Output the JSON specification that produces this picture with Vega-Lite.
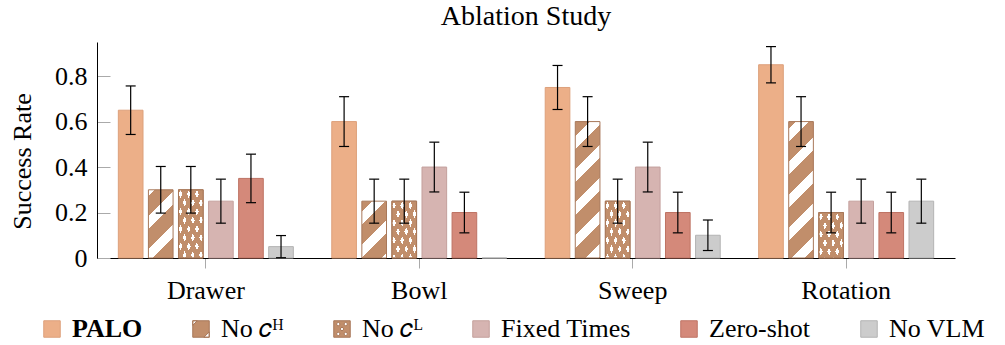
{
  "$schema": "https://vega.github.io/schema/vega-lite/v6.json",
  "autosize": {"type": "none"},
  "width": 858,
  "height": 216,
  "padding": {"left": 97, "top": 42, "right": 50, "bottom": 87},
  "background": "white",
  "config": {"view": {"stroke": null}, "font": "Liberation Serif"},
  "title": {"text": "Ablation Study", "font": "Liberation Serif", "fontSize": 28, "fontWeight": "normal", "color": "black", "anchor": "middle", "frame": "group", "baseline": "alphabetic", "offset": -11},
  "data": {"values": [
    {"task": "Drawer", "method": "PALO", "v": 0.65, "lo": 0.5433, "hi": 0.7567},
    {"task": "Drawer", "method": "NoCH", "v": 0.3, "lo": 0.1975, "hi": 0.4025},
    {"task": "Drawer", "method": "NoCL", "v": 0.3, "lo": 0.1975, "hi": 0.4025},
    {"task": "Drawer", "method": "Fixed", "v": 0.25, "lo": 0.1532, "hi": 0.3468},
    {"task": "Drawer", "method": "Zero", "v": 0.35, "lo": 0.2433, "hi": 0.4567},
    {"task": "Drawer", "method": "NoVLM", "v": 0.05, "lo": 0.0013, "hi": 0.0987},
    {"task": "Bowl", "method": "PALO", "v": 0.6, "lo": 0.4905, "hi": 0.7095},
    {"task": "Bowl", "method": "NoCH", "v": 0.25, "lo": 0.1532, "hi": 0.3468},
    {"task": "Bowl", "method": "NoCL", "v": 0.25, "lo": 0.1532, "hi": 0.3468},
    {"task": "Bowl", "method": "Fixed", "v": 0.4, "lo": 0.2905, "hi": 0.5095},
    {"task": "Bowl", "method": "Zero", "v": 0.2, "lo": 0.1106, "hi": 0.2894},
    {"task": "Bowl", "method": "NoVLM", "v": 0, "lo": 0, "hi": 0},
    {"task": "Sweep", "method": "PALO", "v": 0.75, "lo": 0.6532, "hi": 0.8468},
    {"task": "Sweep", "method": "NoCH", "v": 0.6, "lo": 0.4905, "hi": 0.7095},
    {"task": "Sweep", "method": "NoCL", "v": 0.25, "lo": 0.1532, "hi": 0.3468},
    {"task": "Sweep", "method": "Fixed", "v": 0.4, "lo": 0.2905, "hi": 0.5095},
    {"task": "Sweep", "method": "Zero", "v": 0.2, "lo": 0.1106, "hi": 0.2894},
    {"task": "Sweep", "method": "NoVLM", "v": 0.1, "lo": 0.0329, "hi": 0.1671},
    {"task": "Rotation", "method": "PALO", "v": 0.85, "lo": 0.7702, "hi": 0.9298},
    {"task": "Rotation", "method": "NoCH", "v": 0.6, "lo": 0.4905, "hi": 0.7095},
    {"task": "Rotation", "method": "NoCL", "v": 0.2, "lo": 0.1106, "hi": 0.2894},
    {"task": "Rotation", "method": "Fixed", "v": 0.25, "lo": 0.1532, "hi": 0.3468},
    {"task": "Rotation", "method": "Zero", "v": 0.2, "lo": 0.1106, "hi": 0.2894},
    {"task": "Rotation", "method": "NoVLM", "v": 0.25, "lo": 0.1532, "hi": 0.3468}
  ]},
  "encoding": {
    "x": {"field": "task", "type": "nominal", "title": null,
      "scale": {"domain": ["Drawer", "Bowl", "Sweep", "Rotation"], "paddingInner": 0.18, "paddingOuter": 0.1},
      "axis": {"labelAngle": 0, "tickSize": 10, "tickColor": "#aaaaaa", "tickWidth": 1, "domainColor": "black", "domainWidth": 1, "labelFont": "Liberation Serif", "labelFontSize": 26, "labelColor": "black", "labelPadding": 9}},
    "xOffset": {"field": "method", "type": "nominal",
      "scale": {"domain": ["PALO", "NoCH", "NoCL", "Fixed", "Zero", "NoVLM"], "paddingInner": 0.18, "paddingOuter": 0}}
  },
  "layer": [
    {
      "mark": {"type": "bar", "strokeWidth": 1},
      "encoding": {
        "y": {"field": "v", "type": "quantitative", "title": "Success Rate",
          "scale": {"domain": [0, 0.95], "nice": false, "zero": true},
          "axis": {"values": [0, 0.2, 0.4, 0.6, 0.8], "format": "~g", "grid": false, "tickSize": -13, "tickColor": "#aaaaaa", "domainColor": "black", "labelFont": "Liberation Serif", "labelFontSize": 26, "labelColor": "black", "labelPadding": 23, "titleFont": "Liberation Serif", "titleFontSize": 26, "titleFontWeight": "normal", "titleColor": "black", "titleX": -62, "titleY": 119}},
        "stroke": {"field": "method", "type": "nominal", "legend": null,
          "scale": {"domain": ["PALO", "NoCH", "NoCL", "Fixed", "Zero", "NoVLM"], "range": ["#DDA07B", "#A8785A", "#A8785A", "#C4A09D", "#BE7364", "#B3B3B3"]}},
        "fill": {"field": "method", "type": "nominal",
          "scale": {"domain": ["PALO", "NoCH", "NoCL", "Fixed", "Zero", "NoVLM"], "range": ["#ECAF88", "#C18E6B", "#C18E6B", "#D6B4B1", "#D4897A", "#CCCCCC"]},
          "legend": {"orient": "none", "legendX": -58, "legendY": 274, "direction": "horizontal", "title": null, "symbolType": "square", "symbolSize": 272, "symbolStrokeWidth": 1, "symbolOpacity": 1, "labelFont": "Liberation Serif", "labelFontSize": 26, "labelColor": "black", "labelOffset": 7, "labelLimit": 0, "columnPadding": 45,
            "labelExpr": "datum.value === 'NoCH' ? 'No 𝑐ᴴ' : datum.value === 'NoCL' ? 'No 𝑐ᴸ' : datum.value === 'Fixed' ? 'Fixed Times' : datum.value === 'Zero' ? 'Zero-shot' : datum.value === 'NoVLM' ? 'No VLM' : 'PALO'",
            "encode": {
              "symbols": {"update": {
                "shape": {"signal": "datum.value === 'NoCH' ? 'M-1,-1H1V1H-1Z M-1,-1L-1,-0.45L-0.45,-1Z M1,1L1,0.35L0.35,1Z' : datum.value === 'NoCL' ? 'M-1,-1H1V1H-1Z M-0.45,-0.85L-0.68,-0.6L-0.45,-0.35L-0.22,-0.6Z M0.45,-0.85L0.22,-0.6L0.45,-0.35L0.68,-0.6Z M0,-0.25L-0.23,0L0,0.25L0.23,0Z M-0.45,0.35L-0.68,0.6L-0.45,0.85L-0.22,0.6Z M0.45,0.35L0.22,0.6L0.45,0.85L0.68,0.6Z' : 'square'"},
                "stroke": {"signal": "scale('stroke', datum.value)"},
                "strokeWidth": {"value": 1}
              }},
              "labels": {"update": {"fontWeight": {"signal": "datum.value === 'PALO' ? 'bold' : 'normal'"}}}
            }},
          "condition": [
            {"test": "datum.method === 'NoCL'", "value": "#FFFFFF"},
            {"test": "datum.method === 'NoCH' && datum.task === 'Drawer'", "value": {"gradient": "linear", "x1": 0, "y1": 0, "x2": 0.4353, "y2": 1.2042, "stops": [
              {"offset": 0, "color": "#FFFFFF"}, {"offset": 0.0646, "color": "#FFFFFF"}, {"offset": 0.0646, "color": "#C18E6B"}, {"offset": 0.28, "color": "#C18E6B"}, {"offset": 0.28, "color": "#FFFFFF"}, {"offset": 0.42, "color": "#FFFFFF"}, {"offset": 0.42, "color": "#C18E6B"}, {"offset": 0.635, "color": "#C18E6B"}, {"offset": 0.635, "color": "#FFFFFF"}, {"offset": 0.775, "color": "#FFFFFF"}, {"offset": 0.775, "color": "#C18E6B"}, {"offset": 0.991, "color": "#C18E6B"}, {"offset": 0.991, "color": "#FFFFFF"}, {"offset": 1, "color": "#FFFFFF"}]}},
            {"test": "datum.method === 'NoCH' && datum.task === 'Bowl'", "value": {"gradient": "linear", "x1": 0, "y1": 0, "x2": 0.5235, "y2": 1.2067, "stops": [
              {"offset": 0, "color": "#C18E6B"}, {"offset": 0.1227, "color": "#C18E6B"}, {"offset": 0.1227, "color": "#FFFFFF"}, {"offset": 0.2822, "color": "#FFFFFF"}, {"offset": 0.2822, "color": "#C18E6B"}, {"offset": 0.5276, "color": "#C18E6B"}, {"offset": 0.5276, "color": "#FFFFFF"}, {"offset": 0.6871, "color": "#FFFFFF"}, {"offset": 0.6871, "color": "#C18E6B"}, {"offset": 0.9325, "color": "#C18E6B"}, {"offset": 0.9325, "color": "#FFFFFF"}, {"offset": 1, "color": "#FFFFFF"}]}},
            {"test": "datum.method === 'NoCH' && datum.task === 'Sweep'", "value": {"gradient": "linear", "x1": 0, "y1": 0, "x2": 0.2067, "y2": 1.1434, "stops": [
              {"offset": 0, "color": "#C18E6B"}, {"offset": 0.0931, "color": "#C18E6B"}, {"offset": 0.0931, "color": "#FFFFFF"}, {"offset": 0.1738, "color": "#FFFFFF"}, {"offset": 0.1738, "color": "#C18E6B"}, {"offset": 0.298, "color": "#C18E6B"}, {"offset": 0.298, "color": "#FFFFFF"}, {"offset": 0.3787, "color": "#FFFFFF"}, {"offset": 0.3787, "color": "#C18E6B"}, {"offset": 0.5029, "color": "#C18E6B"}, {"offset": 0.5029, "color": "#FFFFFF"}, {"offset": 0.5836, "color": "#FFFFFF"}, {"offset": 0.5836, "color": "#C18E6B"}, {"offset": 0.7077, "color": "#C18E6B"}, {"offset": 0.7077, "color": "#FFFFFF"}, {"offset": 0.7884, "color": "#FFFFFF"}, {"offset": 0.7884, "color": "#C18E6B"}, {"offset": 0.9126, "color": "#C18E6B"}, {"offset": 0.9126, "color": "#FFFFFF"}, {"offset": 0.9933, "color": "#FFFFFF"}, {"offset": 0.9933, "color": "#C18E6B"}, {"offset": 1, "color": "#C18E6B"}]}},
            {"test": "datum.method === 'NoCH' && datum.task === 'Rotation'", "value": {"gradient": "linear", "x1": 0, "y1": 0, "x2": 0.2067, "y2": 1.1434, "stops": [
              {"offset": 0, "color": "#C18E6B"}, {"offset": 0.0435, "color": "#C18E6B"}, {"offset": 0.0435, "color": "#FFFFFF"}, {"offset": 0.1242, "color": "#FFFFFF"}, {"offset": 0.1242, "color": "#C18E6B"}, {"offset": 0.2483, "color": "#C18E6B"}, {"offset": 0.2483, "color": "#FFFFFF"}, {"offset": 0.329, "color": "#FFFFFF"}, {"offset": 0.329, "color": "#C18E6B"}, {"offset": 0.4532, "color": "#C18E6B"}, {"offset": 0.4532, "color": "#FFFFFF"}, {"offset": 0.5339, "color": "#FFFFFF"}, {"offset": 0.5339, "color": "#C18E6B"}, {"offset": 0.6581, "color": "#C18E6B"}, {"offset": 0.6581, "color": "#FFFFFF"}, {"offset": 0.7388, "color": "#FFFFFF"}, {"offset": 0.7388, "color": "#C18E6B"}, {"offset": 0.8629, "color": "#C18E6B"}, {"offset": 0.8629, "color": "#FFFFFF"}, {"offset": 0.9436, "color": "#FFFFFF"}, {"offset": 0.9436, "color": "#C18E6B"}, {"offset": 1, "color": "#C18E6B"}]}}
          ]}
      }
    },
    {
      "transform": [{"filter": "datum.method === 'NoCL'"}],
      "mark": {"type": "bar", "strokeWidth": 0},
      "encoding": {
        "y": {"field": "v", "type": "quantitative", "title": "Success Rate"},
        "fill": {
          "condition": [
            {"test": "datum.task === 'Drawer'", "value": {"gradient": "linear", "x1": 0, "y1": 0, "x2": 0.8534, "y2": 1.1124, "stops": [
              {"offset": 0, "color": "#C18E6B"}, {"offset": 0.0397, "color": "#C18E6B"}, {"offset": 0.0397, "color": "rgba(193,142,107,0)"}, {"offset": 0.1047, "color": "rgba(193,142,107,0)"}, {"offset": 0.1047, "color": "#C18E6B"}, {"offset": 0.184, "color": "#C18E6B"}, {"offset": 0.184, "color": "rgba(193,142,107,0)"}, {"offset": 0.249, "color": "rgba(193,142,107,0)"}, {"offset": 0.249, "color": "#C18E6B"}, {"offset": 0.3284, "color": "#C18E6B"}, {"offset": 0.3284, "color": "rgba(193,142,107,0)"}, {"offset": 0.3934, "color": "rgba(193,142,107,0)"}, {"offset": 0.3934, "color": "#C18E6B"}, {"offset": 0.4728, "color": "#C18E6B"}, {"offset": 0.4728, "color": "rgba(193,142,107,0)"}, {"offset": 0.5377, "color": "rgba(193,142,107,0)"}, {"offset": 0.5377, "color": "#C18E6B"}, {"offset": 0.6171, "color": "#C18E6B"}, {"offset": 0.6171, "color": "rgba(193,142,107,0)"}, {"offset": 0.6821, "color": "rgba(193,142,107,0)"}, {"offset": 0.6821, "color": "#C18E6B"}, {"offset": 0.7615, "color": "#C18E6B"}, {"offset": 0.7615, "color": "rgba(193,142,107,0)"}, {"offset": 0.8264, "color": "rgba(193,142,107,0)"}, {"offset": 0.8264, "color": "#C18E6B"}, {"offset": 0.9058, "color": "#C18E6B"}, {"offset": 0.9058, "color": "rgba(193,142,107,0)"}, {"offset": 0.9708, "color": "rgba(193,142,107,0)"}, {"offset": 0.9708, "color": "#C18E6B"}, {"offset": 1, "color": "#C18E6B"}]}},
            {"test": "datum.task === 'Rotation'", "value": {"gradient": "linear", "x1": 0, "y1": 0, "x2": 1.0649, "y2": 0.9253, "stops": [
              {"offset": 0, "color": "#C18E6B"}, {"offset": 0.0489, "color": "#C18E6B"}, {"offset": 0.0489, "color": "rgba(193,142,107,0)"}, {"offset": 0.129, "color": "rgba(193,142,107,0)"}, {"offset": 0.129, "color": "#C18E6B"}, {"offset": 0.2268, "color": "#C18E6B"}, {"offset": 0.2268, "color": "rgba(193,142,107,0)"}, {"offset": 0.3069, "color": "rgba(193,142,107,0)"}, {"offset": 0.3069, "color": "#C18E6B"}, {"offset": 0.4048, "color": "#C18E6B"}, {"offset": 0.4048, "color": "rgba(193,142,107,0)"}, {"offset": 0.4848, "color": "rgba(193,142,107,0)"}, {"offset": 0.4848, "color": "#C18E6B"}, {"offset": 0.5827, "color": "#C18E6B"}, {"offset": 0.5827, "color": "rgba(193,142,107,0)"}, {"offset": 0.6628, "color": "rgba(193,142,107,0)"}, {"offset": 0.6628, "color": "#C18E6B"}, {"offset": 0.7606, "color": "#C18E6B"}, {"offset": 0.7606, "color": "rgba(193,142,107,0)"}, {"offset": 0.8407, "color": "rgba(193,142,107,0)"}, {"offset": 0.8407, "color": "#C18E6B"}, {"offset": 0.9385, "color": "#C18E6B"}, {"offset": 0.9385, "color": "rgba(193,142,107,0)"}, {"offset": 1, "color": "rgba(193,142,107,0)"}]}}
          ],
          "value": {"gradient": "linear", "x1": 0, "y1": 0, "x2": 0.957, "y2": 1.0396, "stops": [
            {"offset": 0, "color": "#C18E6B"}, {"offset": 0.0438, "color": "#C18E6B"}, {"offset": 0.0438, "color": "rgba(193,142,107,0)"}, {"offset": 0.1156, "color": "rgba(193,142,107,0)"}, {"offset": 0.1156, "color": "#C18E6B"}, {"offset": 0.2032, "color": "#C18E6B"}, {"offset": 0.2032, "color": "rgba(193,142,107,0)"}, {"offset": 0.2749, "color": "rgba(193,142,107,0)"}, {"offset": 0.2749, "color": "#C18E6B"}, {"offset": 0.3626, "color": "#C18E6B"}, {"offset": 0.3626, "color": "rgba(193,142,107,0)"}, {"offset": 0.4343, "color": "rgba(193,142,107,0)"}, {"offset": 0.4343, "color": "#C18E6B"}, {"offset": 0.522, "color": "#C18E6B"}, {"offset": 0.522, "color": "rgba(193,142,107,0)"}, {"offset": 0.5937, "color": "rgba(193,142,107,0)"}, {"offset": 0.5937, "color": "#C18E6B"}, {"offset": 0.6814, "color": "#C18E6B"}, {"offset": 0.6814, "color": "rgba(193,142,107,0)"}, {"offset": 0.7531, "color": "rgba(193,142,107,0)"}, {"offset": 0.7531, "color": "#C18E6B"}, {"offset": 0.8408, "color": "#C18E6B"}, {"offset": 0.8408, "color": "rgba(193,142,107,0)"}, {"offset": 0.9125, "color": "rgba(193,142,107,0)"}, {"offset": 0.9125, "color": "#C18E6B"}, {"offset": 1, "color": "#C18E6B"}]}
        }
      }
    },
    {
      "transform": [{"filter": "datum.method === 'NoCL'"}],
      "mark": {"type": "bar", "stroke": "#A8785A", "strokeWidth": 1},
      "encoding": {
        "y": {"field": "v", "type": "quantitative", "title": "Success Rate"},
        "fill": {
          "condition": [
            {"test": "datum.task === 'Drawer'", "value": {"gradient": "linear", "x1": 0, "y1": 1, "x2": 0.8534, "y2": -0.1124, "stops": [
              {"offset": 0, "color": "rgba(193,142,107,0)"}, {"offset": 0.0209, "color": "rgba(193,142,107,0)"}, {"offset": 0.0209, "color": "#C18E6B"}, {"offset": 0.1003, "color": "#C18E6B"}, {"offset": 0.1003, "color": "rgba(193,142,107,0)"}, {"offset": 0.1653, "color": "rgba(193,142,107,0)"}, {"offset": 0.1653, "color": "#C18E6B"}, {"offset": 0.2447, "color": "#C18E6B"}, {"offset": 0.2447, "color": "rgba(193,142,107,0)"}, {"offset": 0.3097, "color": "rgba(193,142,107,0)"}, {"offset": 0.3097, "color": "#C18E6B"}, {"offset": 0.3891, "color": "#C18E6B"}, {"offset": 0.3891, "color": "rgba(193,142,107,0)"}, {"offset": 0.454, "color": "rgba(193,142,107,0)"}, {"offset": 0.454, "color": "#C18E6B"}, {"offset": 0.5334, "color": "#C18E6B"}, {"offset": 0.5334, "color": "rgba(193,142,107,0)"}, {"offset": 0.5984, "color": "rgba(193,142,107,0)"}, {"offset": 0.5984, "color": "#C18E6B"}, {"offset": 0.6778, "color": "#C18E6B"}, {"offset": 0.6778, "color": "rgba(193,142,107,0)"}, {"offset": 0.7427, "color": "rgba(193,142,107,0)"}, {"offset": 0.7427, "color": "#C18E6B"}, {"offset": 0.8221, "color": "#C18E6B"}, {"offset": 0.8221, "color": "rgba(193,142,107,0)"}, {"offset": 0.8871, "color": "rgba(193,142,107,0)"}, {"offset": 0.8871, "color": "#C18E6B"}, {"offset": 0.9665, "color": "#C18E6B"}, {"offset": 0.9665, "color": "rgba(193,142,107,0)"}, {"offset": 1, "color": "rgba(193,142,107,0)"}]}},
            {"test": "datum.task === 'Rotation'", "value": {"gradient": "linear", "x1": 0, "y1": 1, "x2": 1.0649, "y2": 0.0747, "stops": [
              {"offset": 0, "color": "#C18E6B"}, {"offset": 0.0691, "color": "#C18E6B"}, {"offset": 0.0691, "color": "rgba(193,142,107,0)"}, {"offset": 0.1491, "color": "rgba(193,142,107,0)"}, {"offset": 0.1491, "color": "#C18E6B"}, {"offset": 0.247, "color": "#C18E6B"}, {"offset": 0.247, "color": "rgba(193,142,107,0)"}, {"offset": 0.3271, "color": "rgba(193,142,107,0)"}, {"offset": 0.3271, "color": "#C18E6B"}, {"offset": 0.4249, "color": "#C18E6B"}, {"offset": 0.4249, "color": "rgba(193,142,107,0)"}, {"offset": 0.505, "color": "rgba(193,142,107,0)"}, {"offset": 0.505, "color": "#C18E6B"}, {"offset": 0.6028, "color": "#C18E6B"}, {"offset": 0.6028, "color": "rgba(193,142,107,0)"}, {"offset": 0.6829, "color": "rgba(193,142,107,0)"}, {"offset": 0.6829, "color": "#C18E6B"}, {"offset": 0.7807, "color": "#C18E6B"}, {"offset": 0.7807, "color": "rgba(193,142,107,0)"}, {"offset": 0.8608, "color": "rgba(193,142,107,0)"}, {"offset": 0.8608, "color": "#C18E6B"}, {"offset": 0.9587, "color": "#C18E6B"}, {"offset": 0.9587, "color": "rgba(193,142,107,0)"}, {"offset": 1, "color": "rgba(193,142,107,0)"}]}}
          ],
          "value": {"gradient": "linear", "x1": 0, "y1": 1, "x2": 0.957, "y2": -0.0396, "stops": [
            {"offset": 0, "color": "#C18E6B"}, {"offset": 0.0066, "color": "#C18E6B"}, {"offset": 0.0066, "color": "rgba(193,142,107,0)"}, {"offset": 0.0784, "color": "rgba(193,142,107,0)"}, {"offset": 0.0784, "color": "#C18E6B"}, {"offset": 0.166, "color": "#C18E6B"}, {"offset": 0.166, "color": "rgba(193,142,107,0)"}, {"offset": 0.2378, "color": "rgba(193,142,107,0)"}, {"offset": 0.2378, "color": "#C18E6B"}, {"offset": 0.3254, "color": "#C18E6B"}, {"offset": 0.3254, "color": "rgba(193,142,107,0)"}, {"offset": 0.3971, "color": "rgba(193,142,107,0)"}, {"offset": 0.3971, "color": "#C18E6B"}, {"offset": 0.4848, "color": "#C18E6B"}, {"offset": 0.4848, "color": "rgba(193,142,107,0)"}, {"offset": 0.5565, "color": "rgba(193,142,107,0)"}, {"offset": 0.5565, "color": "#C18E6B"}, {"offset": 0.6442, "color": "#C18E6B"}, {"offset": 0.6442, "color": "rgba(193,142,107,0)"}, {"offset": 0.7159, "color": "rgba(193,142,107,0)"}, {"offset": 0.7159, "color": "#C18E6B"}, {"offset": 0.8036, "color": "#C18E6B"}, {"offset": 0.8036, "color": "rgba(193,142,107,0)"}, {"offset": 0.8753, "color": "rgba(193,142,107,0)"}, {"offset": 0.8753, "color": "#C18E6B"}, {"offset": 0.963, "color": "#C18E6B"}, {"offset": 0.963, "color": "rgba(193,142,107,0)"}, {"offset": 1, "color": "rgba(193,142,107,0)"}]}
        }
      }
    },
    {
      "transform": [{"filter": "datum.hi > 0"}],
      "mark": {"type": "rule", "color": "black", "strokeWidth": 1.2},
      "encoding": {
        "y": {"field": "lo", "type": "quantitative", "title": "Success Rate"},
        "y2": {"field": "hi"}
      }
    },
    {
      "transform": [{"filter": "datum.hi > 0"}],
      "mark": {"type": "tick", "color": "black", "size": 10, "thickness": 1.2, "opacity": 1},
      "encoding": {
        "y": {"field": "lo", "type": "quantitative", "title": "Success Rate"}
      }
    },
    {
      "transform": [{"filter": "datum.hi > 0"}],
      "mark": {"type": "tick", "color": "black", "size": 10, "thickness": 1.2, "opacity": 1},
      "encoding": {
        "y": {"field": "hi", "type": "quantitative", "title": "Success Rate"}
      }
    }
  ]
}
